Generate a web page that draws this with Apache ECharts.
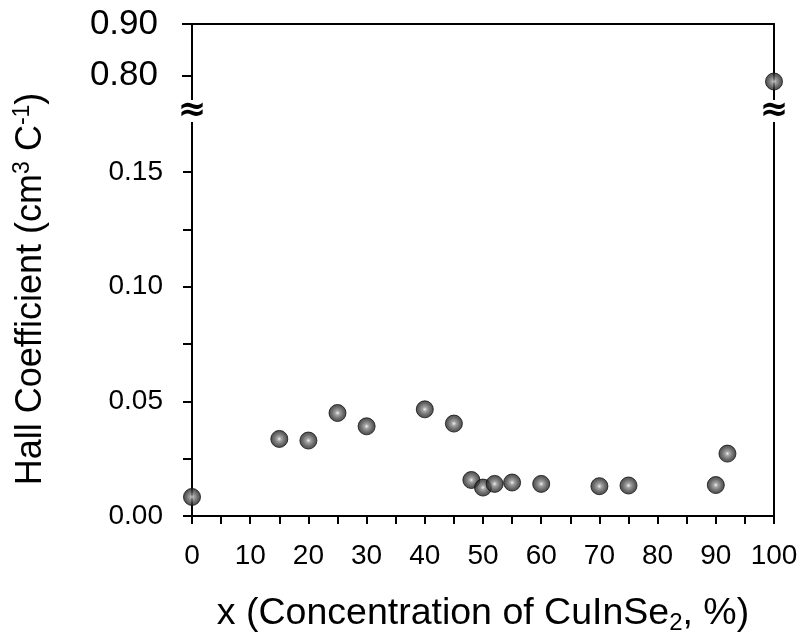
<!DOCTYPE html>
<html>
<head>
<meta charset="utf-8">
<title>Hall Coefficient vs CuInSe2 concentration</title>
<script src="https://cdn.jsdelivr.net/npm/echarts@6/dist/echarts.min.js"></script>
<style>
  html, body { margin: 0; padding: 0; background: #fff; }
  #chart { width: 804px; height: 640px; }
</style>
</head>
<body>
<div id="chart"></div>
<script>
// Measured samples: x = CuInSe2 content (%), Hall coefficient (cm^3 C^-1)
const composition = [0, 15, 20, 25, 30, 40, 45, 48, 50, 52, 55, 60, 70, 75, 90, 92];
const hallCoeff   = [0.0083, 0.0336, 0.0329, 0.0449, 0.0391, 0.0465, 0.0403, 0.0157,
                     0.0124, 0.0140, 0.0146, 0.0140, 0.0130, 0.0133, 0.0135, 0.0272];
// The pure CuInSe2 sample sits far above the rest, on the upper axis segment
const compositionHigh = [100];
const hallCoeffHigh   = [0.789];

// Tick values for the two segments of the broken y axis
const lowerTicks  = [0, 0.025, 0.05, 0.075, 0.10, 0.125, 0.15];
const lowerLabels = [0, 0.05, 0.10, 0.15];
const upperTicks  = [0.80, 0.90];
const xTickStep = 5;

const FONT = 'Liberation Sans, Arial, sans-serif';
const AX = { color: '#000', width: 2 };

const sphere = {
  color: {
    type: 'radial', x: 0.5, y: 0.5, r: 0.55,
    colorStops: [
      { offset: 0, color: '#eeeeee' },
      { offset: 0.22, color: '#8c8c8c' },
      { offset: 0.6, color: '#444444' },
      { offset: 1, color: '#111111' }
    ]
  },
  borderColor: '#111',
  borderWidth: 1
};

const pair = (xs, ys) => xs.map((x, i) => [x, ys[i]]);

const chart = echarts.init(document.getElementById('chart'), null, { renderer: 'canvas' });

const upperGrid = { left: 192, right: 30, top: 24, height: 86 };
const lowerGrid = { left: 192, right: 30, top: 110, bottom: 121 };
const breakY = upperGrid.top + upperGrid.height + 1;

const breakMark = x => ({
  type: 'text', x: x, y: breakY, z: 20,
  style: {
    text: '≈', fontSize: 34, fontWeight: 'bold', fill: '#000', fontFamily: 'DejaVu Sans',
    align: 'center', verticalAlign: 'middle', backgroundColor: '#fff', padding: [-6, 0]
  }
});

chart.setOption({
  animation: false,
  backgroundColor: '#fff',
  textStyle: { fontFamily: FONT },
  grid: [upperGrid, lowerGrid],
  xAxis: [
    {
      gridIndex: 0, type: 'value', min: 0, max: 100, position: 'top',
      axisLine: { lineStyle: AX }, axisTick: { show: false },
      axisLabel: { show: false }, splitLine: { show: false }
    },
    {
      gridIndex: 1, type: 'value', min: 0, max: 100, interval: xTickStep,
      axisLine: { onZero: false, lineStyle: AX },
      axisTick: { length: 8, lineStyle: AX },
      axisLabel: {
        color: '#000', fontSize: 28, fontFamily: FONT, margin: 26,
        formatter: v => (v % 10 === 0 ? String(v) : '')
      },
      splitLine: { show: false },
      name: '{t|x (Concentration of CuInSe}{sub|2}{t|, %)}',
      nameLocation: 'middle', nameGap: 77,
      nameTextStyle: {
        rich: {
          t: { fontSize: 37.5, color: '#000', fontFamily: FONT },
          sub: { fontSize: 24, color: '#000', fontFamily: FONT, padding: [18, 0, 0, 0] }
        }
      }
    }
  ],
  yAxis: [
    {
      gridIndex: 0, type: 'value', min: 0.734, max: 0.90,
      axisLine: { onZero: false, lineStyle: AX },
      axisTick: { customValues: upperTicks, length: 10, lineStyle: AX },
      axisLabel: {
        customValues: upperTicks, color: '#000', fontSize: 35, fontFamily: FONT, margin: 34,
        formatter: v => v.toFixed(2)
      },
      splitLine: { show: false }
    },
    {
      gridIndex: 0, type: 'value', min: 0.734, max: 0.90, position: 'right',
      axisLine: { onZero: false, lineStyle: AX },
      axisTick: { show: false }, axisLabel: { show: false }, splitLine: { show: false }
    },
    {
      gridIndex: 1, type: 'value', min: 0, max: 0.177,
      axisLine: { onZero: false, lineStyle: AX },
      axisTick: { customValues: lowerTicks, length: 9, lineStyle: AX },
      axisLabel: {
        customValues: lowerLabels, color: '#000', fontSize: 28, fontFamily: FONT, margin: 29,
        formatter: v => v.toFixed(2)
      },
      splitLine: { show: false }
    },
    {
      gridIndex: 1, type: 'value', min: 0, max: 0.177, position: 'right',
      axisLine: { onZero: false, lineStyle: AX },
      axisTick: { show: false }, axisLabel: { show: false }, splitLine: { show: false }
    }
  ],
  series: [
    {
      type: 'scatter', xAxisIndex: 1, yAxisIndex: 2, clip: false,
      symbolSize: 17, itemStyle: sphere, z: 5,
      data: pair(composition, hallCoeff)
    },
    {
      type: 'scatter', xAxisIndex: 0, yAxisIndex: 0, clip: false,
      symbolSize: 17, itemStyle: sphere, z: 5,
      data: pair(compositionHigh, hallCoeffHigh)
    }
  ],
  graphic: [
    {
      type: 'text', x: 31, y: 289, rotation: Math.PI / 2,
      style: {
        text: '{t|Hall Coefficient (cm}{sup|3}{t| C}{sup|-1}{t|)}',
        align: 'center', verticalAlign: 'middle',
        rich: {
          t: { fontSize: 36, fill: '#000', fontFamily: FONT },
          sup: { fontSize: 23, fill: '#000', fontFamily: FONT, padding: [0, 0, 17, 0] }
        }
      }
    },
    // axis break marks on both spines
    breakMark(upperGrid.left),
    breakMark(804 - upperGrid.right)
  ]
});
</script>
</body>
</html>
